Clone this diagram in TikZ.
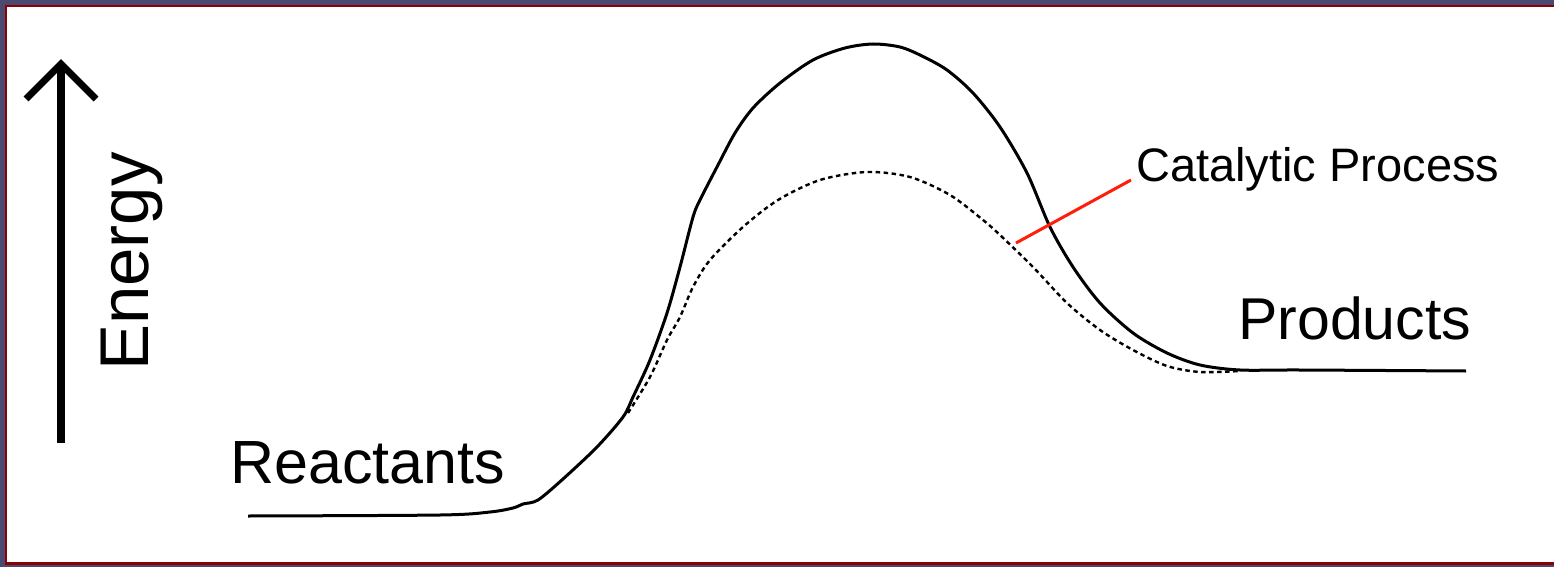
\documentclass[tikz,border=0pt]{standalone}
\usepackage{fontspec}
\setmainfont{Liberation Sans}
\definecolor{framegray}{RGB}{74,74,112}
\definecolor{framered}{RGB}{139,0,0}
\definecolor{callred}{RGB}{255,30,10}
\begin{document}
\begin{tikzpicture}[x=1pt,y=-1pt,
  curve/.style={line width=3pt,black,line join=round},
  catcurve/.style={line width=2.4pt,black,dash pattern=on 4.5pt off 3.5pt},
  lbl/.style={inner sep=0pt,font=\fontsize{59}{62}\selectfont},
  smalllbl/.style={inner sep=0pt,font=\fontsize{47}{50}\selectfont}]
\useasboundingbox (0,0) rectangle (1554,567);
\fill[framegray] (0,0) rectangle (1554,567);
\fill[framered] (5,5) rectangle (1554,565);
\fill[white] (7,7) rectangle (1554,562);
% energy axis
\coordinate (axbot) at (61,443);
\coordinate (axtop) at (61,64);
\coordinate (hl) at (26,99);
\coordinate (hr) at (96,99);
\draw[line width=8pt] (axbot) -- (axtop);
\draw[line width=7pt,line join=miter] (hl) -- (axtop) -- (hr);
\node[lbl,font=\fontsize{69}{70}\selectfont,rotate=90,anchor=base west] (energy) at (148,371) {Energy};
% labels
\node[lbl,font=\fontsize{61}{62}\selectfont,anchor=base west] (react) at (230,483) {Reactants};
\node[lbl,anchor=base west] (prod) at (1238,339) {Products};
\node[smalllbl,anchor=base west] (cat) at (1136,181) {Catalytic Process};
% uncatalysed curve
\draw[curve] plot[smooth,tension=0.5] coordinates {
(248,516) (440,515) (490,512) (513,508) (523,504) (538,500) (563,479) (597,447)
(623,417) (633,397) (650,360) (667,313) (680,267) (693,217) (700,200) (718,165)
(735,133) (753,108) (780,83) (813,60) (845,48) (873,44) (900,47) (922,56) (947,70) (973,93)
(1000,127) (1027,173) (1050,227) (1073,267) (1100,303) (1133,333) (1167,353)
(1200,365) (1240,370) (1300,370) (1466,371)};
% catalysed curve
\draw[catcurve] plot[smooth,tension=0.5] coordinates {
(628,413) (650,377) (667,340) (680,317) (693,287) (710,260) (743,227) (778,200)
(820,180) (867,172) (910,177) (950,195) (983,220) (1000,235) (1033,267)
(1067,303) (1100,330) (1133,350) (1167,366) (1200,372) (1240,371)};
% callout
\coordinate (callend) at (1016,243);
\coordinate (callstart) at (1131,180);
\draw[callred,line width=3pt] (callend) -- (callstart);
\end{tikzpicture}
\end{document}
